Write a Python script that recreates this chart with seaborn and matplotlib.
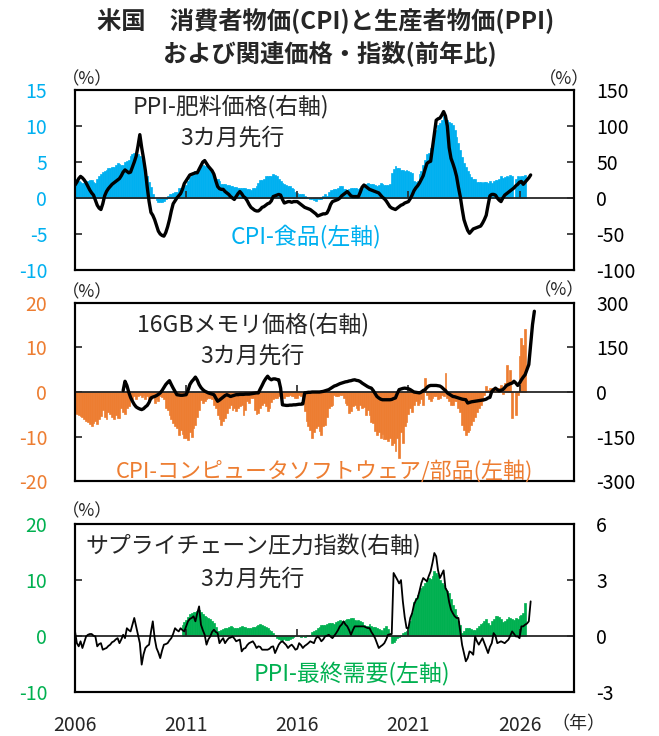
import numpy as np
import pandas as pd
import matplotlib
matplotlib.use("Agg")
import matplotlib.pyplot as plt
import seaborn as sns

# monthly data, y/y %. bars start Jan 2006 unless noted, lines are plotted 3 months ahead
LEAD = 3

# CPI food, Jan 2006 - Apr 2026 (Oct 2025 not published)
cpi_food = [
    2.6, 2.4, 2.3, 2.2, 2.1, 2.1, 2.2, 2.3, 2.5, 2.5, 2.2, 2.1,
    2.7, 3.0, 3.4, 3.6, 3.8, 3.9, 4.1, 4.2, 4.3, 4.3, 4.6, 4.9,
    4.7, 4.6, 4.6, 5.0, 5.1, 5.3, 5.8, 6.1, 6.2, 6.3, 6.1, 5.9,
    5.3, 4.7, 3.8, 3.0, 2.2, 1.5, 0.5, 0.0, -0.3, -0.6, -0.6, -0.5,
    -0.4, -0.1, 0.3, 0.5, 0.6, 0.7, 0.8, 0.9, 1.4, 1.4, 1.5, 1.5,
    1.8, 2.3, 2.9, 3.2, 3.5, 3.7, 3.6, 4.0, 4.4, 4.6, 4.5, 4.7,
    4.4, 3.9, 3.3, 3.0, 2.7, 2.7, 2.3, 2.0, 2.0, 2.0, 1.8, 1.8,
    1.6, 1.6, 1.5, 1.5, 1.4, 1.4, 1.4, 1.4, 1.4, 1.3, 1.2, 1.1,
    1.4, 1.4, 1.7, 2.1, 2.5, 2.5, 2.6, 3.1, 3.0, 3.0, 3.1, 3.4,
    3.2, 3.0, 2.6, 2.4, 2.1, 1.9, 1.8, 1.6, 1.6, 1.4, 1.3, 0.8,
    0.7, 0.6, 0.5, 0.6, 0.3, 0.1, 0.0, -0.1, -0.2, -0.3, -0.4, -0.2,
    -0.2, -0.2, 0.3, 0.5, 0.3, 0.8, 1.1, 1.1, 1.2, 1.3, 1.4, 1.6,
    1.7, 1.3, 1.3, 1.1, 1.2, 1.4, 1.4, 1.4, 1.4, 1.2, 1.4, 1.6,
    1.6, 2.0, 2.1, 1.9, 2.0, 1.9, 1.8, 1.7, 1.8, 2.1, 2.0, 1.8,
    1.8, 1.8, 1.9, 3.5, 4.0, 4.5, 4.1, 4.1, 3.9, 3.9, 3.7, 3.9,
    3.8, 3.6, 3.5, 2.4, 2.2, 2.4, 3.4, 3.7, 4.6, 5.3, 6.1, 6.3,
    7.0, 7.9, 8.8, 9.4, 10.1, 10.4, 10.9, 11.4, 11.2, 10.9, 10.6, 10.4,
    10.1, 9.5, 8.5, 7.7, 6.7, 5.7, 4.9, 4.3, 3.7, 3.3, 2.9, 2.7,
    2.6, 2.2, 2.2, 2.2, 2.1, 2.2, 2.2, 2.1, 2.3, 2.1, 2.4, 2.5,
    2.5, 2.6, 3.0, 2.8, 2.9, 3.0, 2.9, 3.2, 3.1, np.nan, 2.6, 3.1,
    2.9, 3.0, 3.1, 3.2,
]

# PPI fertilizer, Oct 2005 - Apr 2026 (plotted Jan 2006 - Jul 2026)
ppi_fert = [
    18, 22, 27, 30, 28, 25, 21, 16, 11, 7, 4, -3,
    -10, -14, -16, -8, 3, 9, 13, 16, 19, 21, 23, 25,
    27, 31, 36, 39, 37, 35, 36, 43, 50, 58, 72, 88,
    70, 55, 38, 15, -5, -20, -24, -30, -38, -46, -50, -52,
    -53, -48, -40, -30, -18, -8, -4, 0, 3, 6, 12, 20,
    24, 28, 32, 33, 34, 35, 35, 40, 45, 50, 52, 48,
    44, 41, 38, 33, 24, 16, 13, 12, 12, 9, 7, 5,
    2, 0, -2, 2, 6, 9, 6, 2, 0, -4, -9, -13,
    -15, -17, -18, -18, -16, -13, -12, -10, -8, -7, -4, 2,
    3, 4, 5, 4, -2, -7, -6, -5, -5, -6, -5, -5,
    -5, -7, -9, -11, -13, -14, -15, -16, -18, -20, -22, -25,
    -24, -23, -22, -22, -21, -16, -9, -5, -4, -3, -2, 0,
    3, 5, 7, 9, 6, 3, 2, 2, 2, 2, 8, 15,
    18, 16, 14, 12, 11, 10, 9, 8, 7, 4, 1, -1,
    -4, -8, -12, -14, -15, -16, -14, -12, -10, -9, -7, -6,
    -5, -1, 4, 10, 14, 17, 21, 26, 31, 40, 48, 50,
    51, 70, 90, 108, 110, 111, 115, 120, 114, 100, 70, 55,
    48, 40, 30, 15, 2, -15, -30, -38, -45, -49, -46, -43,
    -42, -41, -40, -39, -35, -30, -24, -10, 3, 5, 5, 4,
    0, -3, -5, 0, 4, 6, 8, 10, 12, 14, 17, 19,
    22, 23, 19, 22, 25, 28, 32,
]

# CPI computer software & accessories, Jan 2006 - Apr 2026
cpi_soft = [
    -4.7, -5.0, -5.2, -5.4, -5.6, -6.0, -6.4, -6.8, -7.2, -7.5, -7.0, -6.5,
    -7.2, -6.0, -5.4, -4.0, -5.5, -6.0, -4.5, -5.0, -5.5, -6.0, -5.2, -5.8,
    -5.8, -3.5, -4.5, -5.0, -3.5, -3.2, -1.3, -1.5, -1.0, -1.5, -1.0, -0.6,
    -1.2, -0.6, -1.5, -1.0, -2.1, -1.5, -1.0, -2.5, -1.5, -2.0, -1.0, -1.2,
    -1.5, -3.6, -4.0, -5.1, -6.0, -7.0, -7.5, -8.1, -9.6, -8.5, -9.5, -10.3,
    -10.3, -10.7, -9.0, -10.0, -8.0, -7.3, -5.5, -4.0, -1.7, -2.5, -2.0, -1.5,
    -1.3, -1.3, -1.5, -2.8, -3.5, -5.1, -6.0, -7.3, -6.5, -5.8, -4.6, -3.5,
    -3.0, -4.0, -3.5, -4.3, -3.6, -3.2, -3.0, -5.1, -4.0, -2.1, -2.5, -1.3,
    -1.3, -4.0, -5.0, -4.6, -3.5, -3.0, -2.4, -3.2, -4.2, -3.5, -2.2, -1.5,
    -1.3, -1.3, -0.8, -1.0, -0.6, -1.3, -1.0, -0.8, -0.6, -1.0, -0.9, -1.3,
    -1.3, -0.6, -1.0, -2.1, -4.3, -6.4, -7.5, -8.5, -10.3, -9.0, -8.0, -7.5,
    -8.8, -9.6, -7.5, -7.3, -5.5, -3.6, -3.2, -3.0, -0.6, -1.0, -0.8, -0.6,
    -0.6, -1.3, -2.5, -3.0, -4.6, -4.3, -3.2, -2.8, -3.5, -4.0, -3.0, -3.6,
    -3.3, -5.1, -4.0, -5.1, -6.6, -7.0, -8.8, -9.6, -9.0, -10.3, -9.5, -10.5,
    -10.5, -11.0, -10.2, -11.8, -11.5, -13.3, -10.3, -14.8, -9.0, -11.5, -7.5, -6.6,
    -5.0, -3.6, -4.5, -3.0, -2.1, -3.0, -2.5, -1.5, -2.8, 3.1, -0.6, -1.5,
    -2.1, -1.3, -1.0, -0.9, -1.5, -1.3, -0.6, -1.0, 4.3, -1.3, -2.0, -2.8,
    -2.8, -2.1, -2.0, -3.6, -4.5, -7.3, -8.5, -9.6, -9.0, -8.5, -7.3, -6.5,
    -5.5, -4.4, -3.5, -2.8, -2.0, -0.6, 1.3, 0.5, 0.9, 0.8, 1.0, 0.6,
    0.5, 1.0, 1.5, -0.5, 2.0, 6.1, 2.5, 5.0, -5.8, np.nan, -5.1, -0.6,
    8.0, 12.0, 10.5, 14.0,
]

# 16GB memory price, Dec 2007 - Jun 2026 (plotted Mar 2008 - Sep 2026)
mem_price = [
    5, 36, 22, 0, -18, -31, -42, -50, -54, -57,
    -59, -56, -50, -45, -35, -20, -17, -15, -12, -8, -3, 5,
    15, 25, 32, 38, 25, 13, 2, -9, -10, -11, -11, -10,
    -9, 5, 25, 35, 42, 50, 40, 25, 15, 8, 3, 0,
    -3, -5, -7, -9, -20, -31, -27, -22, -17, -12, -9, -12,
    -15, -13, -11, -9, -9, -8, -8, -8, -7, -7, -7, -6,
    -5, -4, -3, -3, 10, 22, 35, 45, 53, 45, 41, 44,
    44, 42, 41, 13, -43, -44, -45, -45, -44, -44, -43, -43,
    -42, -41, -41, -40, -3, -2, -1, -1, 0, 0, 0, 0,
    0, 1, 2, 4, 6, 8, 12, 16, 20, 22, 25, 28,
    30, 32, 34, 35, 37, 38, 40, 41, 39, 38, 35, 30,
    26, 22, 18, 15, 13, 5, -5, -15, -20, -24, -26, -26,
    -26, -26, -26, -25, -22, -20, -5, 8, 10, 12, 13, 12,
    11, 8, 4, 0, -1, -2, -3, 0, 5, 8, 15, 20,
    22, 22, 22, 22, 21, 20, 16, 10, 5, -3, -7, -11,
    -15, -16, -18, -20, -22, -24, -25, -26, -37, -35, -33, -32,
    -31, -30, -29, -28, -27, -26, -24, -20, -18, 2, 8, 13,
    8, 4, 6, 8, 15, 22, 25, 28, 30, 36, 30, 22,
    30, 41, 50, 58, 75, 92, 159, 226, 271,
]

# PPI final demand, Nov 2010 - Apr 2026
ppi_final = [
    2.0, 2.4,
    2.8, 3.3, 3.8, 4.0, 4.2, 4.3, 4.4, 4.6, 4.3, 3.9, 3.6, 3.4,
    3.2, 3.0, 2.7, 2.3, 1.6, 0.9, 0.8, 1.0, 1.2, 1.3, 1.4, 1.6,
    1.7, 1.6, 1.4, 1.3, 1.4, 1.5, 1.7, 1.6, 1.5, 1.4, 1.3, 1.4,
    1.5, 1.6, 1.7, 2.0, 2.1, 1.9, 1.7, 1.5, 1.4, 1.1, 0.8, 0.5,
    0.1, -0.4, -0.5, -0.7, -0.7, -0.6, -0.7, -0.7, -0.6, -0.4, -0.2, -0.1,
    0.0, 0.0, -0.2, -0.1, -0.2, 0.1, 0.2, 0.2, 0.6, 0.8, 1.0, 1.3,
    1.5, 2.0, 2.0, 2.0, 2.1, 2.2, 2.3, 2.2, 2.1, 2.4, 2.6, 2.8,
    2.6, 2.6, 2.8, 2.9, 3.0, 3.2, 3.1, 2.8, 2.6, 2.8, 2.6, 2.4,
    2.0, 1.7, 1.8, 2.1, 1.8, 1.6, 1.6, 1.4, 1.2, 1.0, 0.8, 1.3,
    1.7, 1.2, 0.5, -1.3, -1.2, -0.8, -0.4, -0.2, 0.2, 0.4, 0.6, 0.8,
    1.6, 2.6, 4.0, 6.0, 6.7, 7.3, 7.9, 8.5, 8.8, 9.4, 9.8, 10.3,
    10.2, 10.6, 11.5, 11.2, 10.9, 10.0, 9.5, 9.1, 8.5, 8.0, 7.6, 6.5,
    5.5, 4.8, 3.75, 2.7, 2.0, 0.5, 0.8, 1.4, 1.4, 1.4, 1.2, 1.1,
    1.1, 1.4, 1.7, 2.1, 2.3, 2.6, 2.9, 2.3, 2.0, 2.6, 3.0, 3.5,
    3.5, 3.3, 2.9, 2.5, 2.7, 3.0, 3.3, 3.2, 2.9, 2.8, 3.1, 2.9,
    3.5, 3.7, 4.0, 5.8,
]

# NY Fed supply chain pressure index, Oct 2005 - Apr 2026 (plotted Jan 2006 - Jul 2026)
gscpi = [
    0.23, -0.4, -0.57, -0.3, -0.66, -0.35, -0.04, 0.05, 0.09, 0.09, 0.0, -0.04,
    -0.57, -0.45, -0.4, -0.75, -0.7, -0.66, -0.55, -0.48, -0.35, -0.3, -0.2, -0.13,
    -0.4, -0.2, 0.05, -0.13, 0.4, 0.3, 0.23, 0.6, 0.95, 0.5, 0.05, -0.4,
    -1.55, -1.0, -0.66, -0.55, -0.48, 0.2, 0.77, -0.13, -0.66, -0.9, -1.2, -0.8,
    -0.48, -0.45, -0.4, -0.25, -0.13, 0.1, 0.4, 0.3, 0.23, 0.4, 0.3, 0.23,
    0.5, 0.77, 0.9, 0.95, 1.04, 0.77, 1.2, 1.57, 0.59, 0.3, 0.05, -0.48,
    -0.2, -0.04, 0.2, 0.32, 0.2, 0.14, -0.4, -0.25, -0.13, -0.4, -0.25, -0.13,
    -0.1, -0.04, -0.15, -0.3, -0.25, -0.21, -0.84, -0.7, -0.66, -0.5, -0.4, -0.35,
    -0.3, -0.45, -0.66, -0.57, -0.6, -0.75, -0.75, -0.75, -0.75, -0.7, -0.6, -0.57,
    -0.93, -0.7, -0.48, -0.35, -0.3, -0.4, -0.5, -0.66, -0.55, -0.48, -0.6, -0.75,
    -0.7, -0.4, -0.5, -0.66, -0.55, -0.48, -0.4, -0.3, -0.35, -0.4, -0.15, -0.04,
    -0.13, -0.3, -0.2, -0.04, 0.0, 0.05, -0.05, -0.13, 0.0, 0.14, 0.3, 0.5,
    0.6, 0.77, 0.6, 0.5, 0.3, 0.05, 0.3, 0.5, 0.5, 0.5, 0.5, 0.5,
    0.5, 0.45, 0.41, 0.41, 0.2, 0.05, -0.13, -0.4, -0.66, -0.57, -0.5, -0.4,
    -0.2, 0.05, 0.07, 0.09, 3.36, 3.18, 3.0, 2.8, 2.98, 1.84, 1.0, 0.41,
    0.41, 0.95, 1.2, 1.66, 1.9, 2.02, 2.4, 2.82, 3.09, 3.0, 2.91, 3.2,
    3.45, 3.9, 4.43, 4.25, 3.5, 3.09, 3.3, 3.5, 2.55, 2.38, 1.8, 1.39,
    1.2, 1.04, 0.95, 0.95, 0.23, -0.5, -0.93, -1.37, -1.2, -0.84, -0.9, -1.02,
    -0.04, -0.3, -0.48, -0.3, -0.13, -0.4, -0.66, -0.93, -0.6, -0.4, 0.14, 0.0,
    -0.4, -0.35, -0.3, -0.35, -0.4, -0.3, -0.21, 0.0, 0.23, 0.1, -0.04, -0.04,
    -0.13, 0.5, 0.5, 0.59, 0.65, 0.77, 1.84,
]

year_ticks = [2006, 2011, 2016, 2021, 2026]

BLUE = "#00B0F0"
ORANGE = "#ED7D31"
GREEN = "#00B050"

sns.set_style("white")
plt.rcParams["font.family"] = ["Noto Sans CJK JP", "DejaVu Sans"]
plt.rcParams["axes.unicode_minus"] = False

W, H = 659, 736
fig = plt.figure(figsize=(W / 100, H / 100), dpi=100)


def months(start, n, lead=0):
    # decimal year for each month, Jan = .0
    y0, m0 = start
    k = np.arange(n) + (m0 - 1) + lead
    return y0 + k / 12


def px(x, y):
    return x / W, 1 - y / H


def draw_panel(top, bottom, bars, bar_start, color, line, line_start, lw,
               ylim, ystep, ylim2, ystep2, last=False):
    ax = fig.add_axes([75 / W, 1 - bottom / H, 499 / W, (bottom - top) / H])
    ax2 = ax.twinx()

    df = pd.DataFrame({"x": months(bar_start, len(bars)), "y": bars}).dropna()
    sns.barplot(data=df, x="x", y="y", native_scale=True, width=1.0,
                color=color, saturation=1, linewidth=0.5, edgecolor=color,
                errorbar=None, ax=ax)
    sns.lineplot(x=months(line_start, len(line), LEAD), y=line,
                 color="black", linewidth=lw, ax=ax2)

    for a, lim, step in ((ax, ylim, ystep), (ax2, ylim2, ystep2)):
        a.set_ylim(*lim)
        a.set_yticks(np.arange(lim[0], lim[1] + step / 2, step))
        a.set_xlim(2006, 2028.45)
        a.set_xlabel("")
        a.set_ylabel("")
        for s in a.spines.values():
            s.set_visible(True)
            s.set_color("black")
            s.set_linewidth(1.5)

    ax.tick_params(axis="y", direction="in", length=5, width=1.2, left=True,
                   labelcolor=color, labelsize=14, pad=20)
    ax2.tick_params(axis="y", direction="in", length=5, width=1.2, right=True,
                    labelcolor="black", labelsize=14, pad=16)
    ax.set_xticks(year_ticks)
    ax.tick_params(axis="x", length=0, labelbottom=last, labelsize=14, pad=17)

    # axis line at zero with small inward ticks
    zero = (0 - ylim[0]) / (ylim[1] - ylim[0])
    sec = ax.secondary_xaxis(zero)
    sec.set_alignment("bottom")
    sec.set_xticks(year_ticks[1:])
    sec.tick_params(direction="in", length=5, width=1.2, labelbottom=False)
    sec.spines["bottom"].set_linewidth(1.3)
    sec.set_zorder(2.5)
    return ax, ax2


draw_panel(90, 270, cpi_food, (2006, 1), BLUE, ppi_fert, (2005, 10), 2.4,
           (-10, 15), 5, (-100, 150), 50)
draw_panel(302.6, 481.4, cpi_soft, (2006, 1), ORANGE, mem_price, (2007, 12), 2.4,
           (-20, 20), 10, (-300, 300), 150)
draw_panel(523.7, 691.7, ppi_final, (2010, 11), GREEN, gscpi, (2005, 10), 1.3,
           (-10, 20), 10, (-3, 6), 3, last=True)

# title
fig.text(*px(326, 21), "米国　消費者物価(CPI)と生産者物価(PPI)", ha="center", va="center",
         fontsize=17.5, fontweight="bold")
fig.text(*px(330, 53), "および関連価格・指数(前年比)", ha="center", va="center",
         fontsize=17.5, fontweight="bold")

# unit labels
for x, y in [(87, 79), (564, 79), (87, 292), (559, 290), (87, 511)]:
    fig.text(*px(x, y), "（%）", ha="center", va="center", fontsize=12.5)
fig.text(*px(578, 724), "（年）", ha="center", va="center", fontsize=13)

# series labels
fs = 16.5
fig.text(*px(231, 106), "PPI-肥料価格(右軸)", ha="center", va="center", fontsize=fs)
fig.text(*px(232, 138), "3カ月先行", ha="center", va="center", fontsize=fs)
fig.text(*px(306, 236), "CPI-食品(左軸)", ha="center", va="center", fontsize=fs, color=BLUE)

fig.text(*px(253, 324), "16GBメモリ価格(右軸)", ha="center", va="center", fontsize=fs)
fig.text(*px(252, 356), "3カ月先行", ha="center", va="center", fontsize=fs)
fig.text(*px(324, 471), "CPI-コンピュータソフトウェア/部品(左軸)", ha="center", va="center",
         fontsize=15.8, color=ORANGE)

fig.text(*px(253, 546), "サプライチェーン圧力指数(右軸)", ha="center", va="center", fontsize=fs)
fig.text(*px(252, 579), "3カ月先行", ha="center", va="center", fontsize=fs)
fig.text(*px(352, 673), "PPI-最終需要(左軸)", ha="center", va="center", fontsize=fs, color=GREEN)

fig.savefig("out.png", dpi=100)
